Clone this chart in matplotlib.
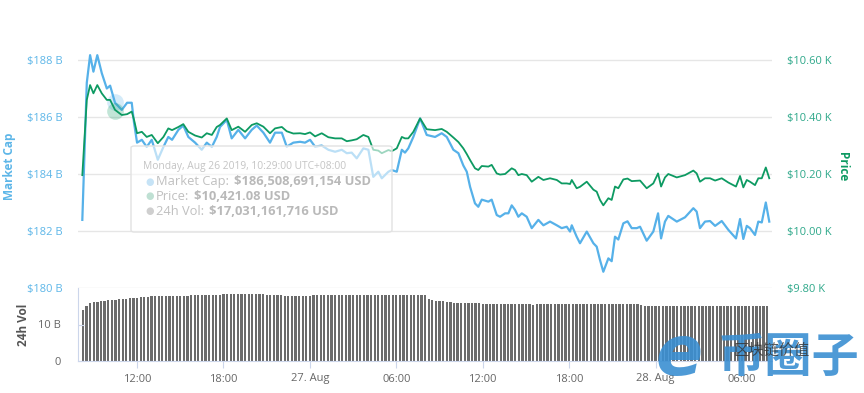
import numpy as np
import matplotlib.pyplot as plt
from matplotlib.patches import FancyBboxPatch

plt.rcParams['font.family'] = ['Open Sans', 'DejaVu Sans']

# time in hours from 26 Aug 2019 00:00 (UTC+8)
hours = [8.20, 8.51, 8.74, 8.97, 9.24, 9.55, 9.90, 10.13, 10.47, 10.94,
         11.31, 11.63, 11.79, 12.00, 12.33, 12.67, 13.02, 13.44, 13.83, 14.17,
         14.43, 14.87, 15.21, 15.56, 16.03, 16.49, 16.84, 17.19, 17.53, 17.76,
         18.23, 18.57, 19.03, 19.50, 19.96, 20.31, 20.77, 21.23, 21.58, 22.05,
         22.39, 22.85, 23.32, 23.66, 24.01, 24.36, 24.82, 25.28, 25.75, 26.21,
         26.56, 26.90, 27.25, 27.71, 28.06, 28.40, 28.75, 28.99, 29.45, 29.68,
         30.03, 30.38, 30.60, 30.83, 31.18, 31.65, 32.11, 32.69, 33.15, 33.50,
         33.96, 34.31, 34.65, 34.89, 35.12, 35.46, 35.69, 35.93, 36.39, 36.62,
         36.97, 37.20, 37.55, 37.78, 38.01, 38.24, 38.47, 38.71, 39.05, 39.40,
         39.86, 40.21, 40.67, 41.14, 41.48, 41.83, 42.06, 42.18, 42.52, 42.75,
         43.22, 43.68, 43.91, 44.14, 44.37, 44.72, 44.95, 45.18, 45.41, 45.76,
         46.05, 46.34, 46.69, 46.92, 47.38, 47.84, 48.17, 48.38, 48.65, 48.88,
         49.47, 50.04, 50.62, 50.85, 51.08, 51.43, 51.78, 52.13, 52.59, 53.05,
         53.58, 53.86, 54.09, 54.33, 54.55, 54.90, 55.13, 55.37, 55.65, 55.89]

# market cap, billions USD
mcap = [182.39, 187.2, 188.17, 187.59, 188.17, 187.54, 187.0, 187.1, 186.5, 186.25,
        186.5, 186.5, 185.8, 185.1, 185.2, 184.95, 185.2, 184.5, 184.95, 185.3,
        185.2, 185.55, 185.7, 185.3, 185.1, 184.85, 185.1, 184.95, 185.3, 185.65,
        185.9, 185.25, 185.55, 185.25, 185.55, 185.7, 185.45, 185.1, 185.45, 185.45,
        184.96, 185.1, 185.13, 185.1, 185.2, 184.96, 185.0, 184.85, 184.78, 184.85,
        184.73, 184.75, 184.55, 184.9, 184.85, 183.9, 184.08, 183.85, 184.08, 184.14,
        184.08, 184.85, 184.75, 184.9, 185.3, 185.95, 185.37, 185.3, 185.43, 185.3,
        184.85, 184.73, 184.3, 184.08, 183.55, 182.97, 182.85, 183.1, 183.03, 183.1,
        182.56, 182.5, 182.62, 182.62, 182.9, 182.74, 182.5, 182.62, 182.5, 182.1,
        182.39, 182.2, 182.33, 182.2, 182.1, 182.15, 181.98, 182.2, 181.8, 181.57,
        181.98, 181.57, 181.45, 180.98, 180.57, 181.04, 180.94, 181.8, 181.7, 182.27,
        182.34, 182.1, 182.1, 182.15, 181.66, 181.98, 182.62, 181.74, 182.33, 182.53,
        182.33, 182.48, 182.8, 182.68, 182.1, 182.33, 182.35, 182.18, 182.35, 182.04,
        181.74, 182.42, 181.72, 182.18, 182.1, 181.86, 182.33, 182.3, 183.0, 182.33]

# price, thousands USD
price = [10.196, 10.46, 10.512, 10.483, 10.512, 10.483, 10.46, 10.46, 10.425, 10.407,
         10.41, 10.419, 10.39, 10.343, 10.348, 10.33, 10.337, 10.308, 10.33, 10.36,
         10.354, 10.365, 10.375, 10.348, 10.335, 10.328, 10.343, 10.337, 10.365, 10.372,
         10.395, 10.354, 10.366, 10.348, 10.372, 10.378, 10.366, 10.343, 10.36, 10.365,
         10.35, 10.342, 10.343, 10.34, 10.346, 10.332, 10.343, 10.329, 10.325, 10.325,
         10.315, 10.318, 10.322, 10.337, 10.33, 10.285, 10.282, 10.273, 10.284, 10.28,
         10.29, 10.33, 10.325, 10.325, 10.348, 10.395, 10.357, 10.354, 10.358, 10.348,
         10.328, 10.312, 10.29, 10.27, 10.249, 10.22, 10.214, 10.228, 10.226, 10.232,
         10.202, 10.198, 10.2, 10.21, 10.22, 10.214, 10.196, 10.2, 10.196, 10.173,
         10.19, 10.179, 10.185, 10.179, 10.167, 10.167, 10.165, 10.179, 10.15, 10.155,
         10.173, 10.145, 10.138, 10.109, 10.09, 10.115, 10.109, 10.156, 10.15, 10.181,
         10.184, 10.175, 10.176, 10.177, 10.15, 10.167, 10.202, 10.156, 10.188, 10.2,
         10.188, 10.196, 10.212, 10.202, 10.173, 10.185, 10.185, 10.177, 10.185, 10.17,
         10.156, 10.193, 10.153, 10.179, 10.173, 10.161, 10.185, 10.185, 10.223, 10.185]

# 24h volume, billions USD, one bar every 15 min from 08:15
vol_start = 8.25
vol_step = 0.25
vol = [13.9, 15.2, 15.9,
       16.2, 16.3, 16.4, 16.5, 16.6, 16.7, 16.8, 16.9, 17.0, 17.1, 17.2, 17.2,
       17.3, 17.4, 17.5, 17.6, 17.7, 17.75, 17.75, 17.75, 17.75, 17.8, 17.8, 17.8,
       17.9, 17.9, 17.9, 18.0, 18.0, 18.0, 18.0, 18.0, 18.0, 18.1, 18.1, 18.1,
       18.3, 18.3, 18.4, 18.4, 18.4, 18.4, 18.4, 18.4, 18.4, 18.4, 18.4, 18.3,
       18.1, 18.0, 18.0, 18.0, 18.0, 17.9, 17.9, 17.85, 17.8, 17.9, 17.85, 17.8,
       17.9, 18.0, 18.0, 18.0, 18.0, 18.0, 18.0, 18.0, 18.05, 18.0, 18.0, 18.0,
       18.0, 18.0, 17.95, 18.0, 18.05, 18.05, 18.0, 18.0, 18.0, 18.0, 18.0, 18.0,
       18.0, 18.0, 18.0, 18.05, 18.1, 18.1, 18.1, 18.1, 18.1, 16.9, 16.6, 16.5,
       16.5, 16.4, 16.2, 16.1, 16.0, 15.9, 15.9, 15.8, 15.9, 15.9, 15.8, 15.8,
       15.6, 15.5, 15.5, 15.5, 15.5, 15.5, 15.5, 15.5, 15.5, 15.5, 15.5, 15.5,
       15.5, 15.5, 15.45, 15.5, 15.5, 15.5, 15.5, 15.5, 15.5, 15.5, 15.5, 15.6,
       15.6, 15.6, 15.6, 15.6, 15.6, 15.6, 15.6, 15.7, 15.7, 15.7, 15.75, 15.75,
       15.75, 15.7, 15.7, 15.7, 15.7, 15.6, 15.6, 15.5, 15.3, 15.1, 15.1, 15.0,
       15.0, 15.0, 15.0, 15.0, 15.0, 15.0, 15.0, 15.0, 15.0, 15.0, 15.0, 15.0,
       15.0, 15.0, 15.0, 14.95, 15.0, 15.0, 15.0, 15.0, 15.0, 15.0, 15.0, 15.0,
       15.0, 15.0, 14.95, 15.0, 15.0, 15.0, 15.0, 15.0]
vol_hours = vol_start + vol_step * np.arange(len(vol))

xticks = [12, 18, 24, 30, 36, 42, 48, 54]
xlabels = ["12:00", "18:00", "27. Aug", "06:00", "12:00", "18:00", "28. Aug", "06:00"]
mcap_ticks = [180, 182, 184, 186, 188]
price_ticks = [9.8, 10.0, 10.2, 10.4, 10.6]

# tooltip point
hover_h = 10.483
hover_mcap = 186.509
hover_price = 10.421

BLUE = '#56b1e9'
GREEN = '#0d9a62'
GRID = '#e6e6e6'

W, H = 864, 393
fig = plt.figure(figsize=(W / 100, H / 100), dpi=100)


def box(x0, y0, x1, y1):
    return [x0 / W, 1 - y1 / H, (x1 - x0) / W, (y1 - y0) / H]


ax = fig.add_axes(box(78, 45, 772, 288))
ax2 = ax.twinx()
axv = fig.add_axes(box(78, 288, 772, 361))

ax.plot(hours, mcap, color=BLUE, lw=1.6, zorder=3)
ax2.plot(hours, price, color=GREEN, lw=1.3, zorder=3)
ax.plot(hover_h, hover_mcap, 'o', ms=12, color=BLUE, alpha=0.25, mec='none', zorder=4)
ax2.plot(hover_h, hover_price, 'o', ms=12, color=GREEN, alpha=0.25, mec='none', zorder=4)

xlim = (7.9, 56.08)
for a in (ax, ax2, axv):
    a.set_xlim(*xlim)
    for s in a.spines.values():
        s.set_visible(False)

ax.set_ylim(180, 180 + 243 / 28.5)
ax2.set_ylim(9.8, 9.8 + 243 / 285)
ax.set_yticks(mcap_ticks)
ax.set_yticklabels(['$%d B' % v for v in mcap_ticks])
ax2.set_yticks(price_ticks)
ax2.set_yticklabels(['$%.2f K' % v for v in price_ticks])
ax.grid(axis='y', color=GRID, lw=1)
ax.set_axisbelow(True)
ax.tick_params(axis='y', length=0, pad=11, labelsize=8, labelcolor='#5db6e8')
ax2.tick_params(axis='y', length=0, pad=11, labelsize=8, labelcolor='#2ea88a')
ax.tick_params(axis='x', bottom=False, labelbottom=False)
ax2.tick_params(axis='x', bottom=False, labelbottom=False)
ax.set_xticks(xticks)
ax.set_ylabel('Market Cap', color='#5db6e8', fontsize=8.5, fontweight='bold', labelpad=8)
ax2.set_ylabel('Price', color=GREEN, fontsize=8.5, fontweight='bold', rotation=270, labelpad=12)

axv.bar(vol_hours, vol, width=0.16, color='#6b6b6b', linewidth=0)
axv.set_ylim(0, 20)
axv.set_yticks([0, 10])
axv.set_yticklabels(['0', '10 B'])
axv.spines['left'].set_visible(True)
axv.spines['left'].set_color('#ccd6eb')
axv.spines['bottom'].set_visible(True)
axv.spines['bottom'].set_color('#ccd6eb')
axv.tick_params(axis='y', length=4, direction='in', color='#ccd6eb', labelsize=8,
                labelcolor='#666666', pad=12)
axv.set_xticks(xticks)
axv.set_xticklabels(xlabels)
axv.tick_params(axis='x', length=5, color='#ccd6eb', labelsize=8, labelcolor='#666666', pad=4)
axv.set_ylabel('24h Vol', color='#555555', fontsize=8.5, fontweight='bold', labelpad=6)

# tooltip (fading)
tip = FancyBboxPatch((131 / W, 1 - 232 / H), (392 - 131) / W, (232 - 146) / H,
                     boxstyle='round,pad=0,rounding_size=0.004', transform=fig.transFigure,
                     facecolor=(1, 1, 1, 0.6), edgecolor='#e2e2e2', lw=1, zorder=5)
fig.patches.append(tip)


def ftext(x, y, s, **kw):
    return fig.text(x / W, 1 - y / H, s, va='center', zorder=6, **kw)


ftext(143, 166.5, 'Monday, Aug 26 2019, 10:29:00 UTC+08:00', fontsize=7.4, color='#c4c4c4')
rows = [(181.5, '#c6e3f6', 'Market Cap:', '$186,508,691,154 USD'),
        (196.5, '#bfe0d3', 'Price:', '$10,421.08 USD'),
        (211.5, '#cfcfcf', '24h Vol:', '$17,031,161,716 USD')]
renderer = fig.canvas.get_renderer()
for y, dot, lab, val in rows:
    ftext(145, y, '\u25cf', fontsize=7, color=dot, family='DejaVu Sans')
    t = ftext(156, y, lab, fontsize=9.3, color='#c0c0c0')
    x_end = t.get_window_extent(renderer).x1
    ftext(x_end + 5, y, val, fontsize=9.3, color='#b9b9b9', fontweight='bold')

# watermark
ftext(679, 356, 'e', fontsize=50, color='#3b8fd2', fontstyle='italic',
      fontweight='bold', ha='center', family='DejaVu Sans', alpha=0.9)
ftext(789, 358, '币圈子', fontsize=34, color='#3b8fd2', fontweight='bold',
      ha='center', family=['Noto Sans CJK SC', 'DejaVu Sans'], alpha=0.9)
ftext(772, 350, '区块链价值', fontsize=11, color='#333333',
      ha='center', family=['Noto Sans CJK SC', 'DejaVu Sans'], alpha=0.8)

fig.savefig('out.png', dpi=100)
